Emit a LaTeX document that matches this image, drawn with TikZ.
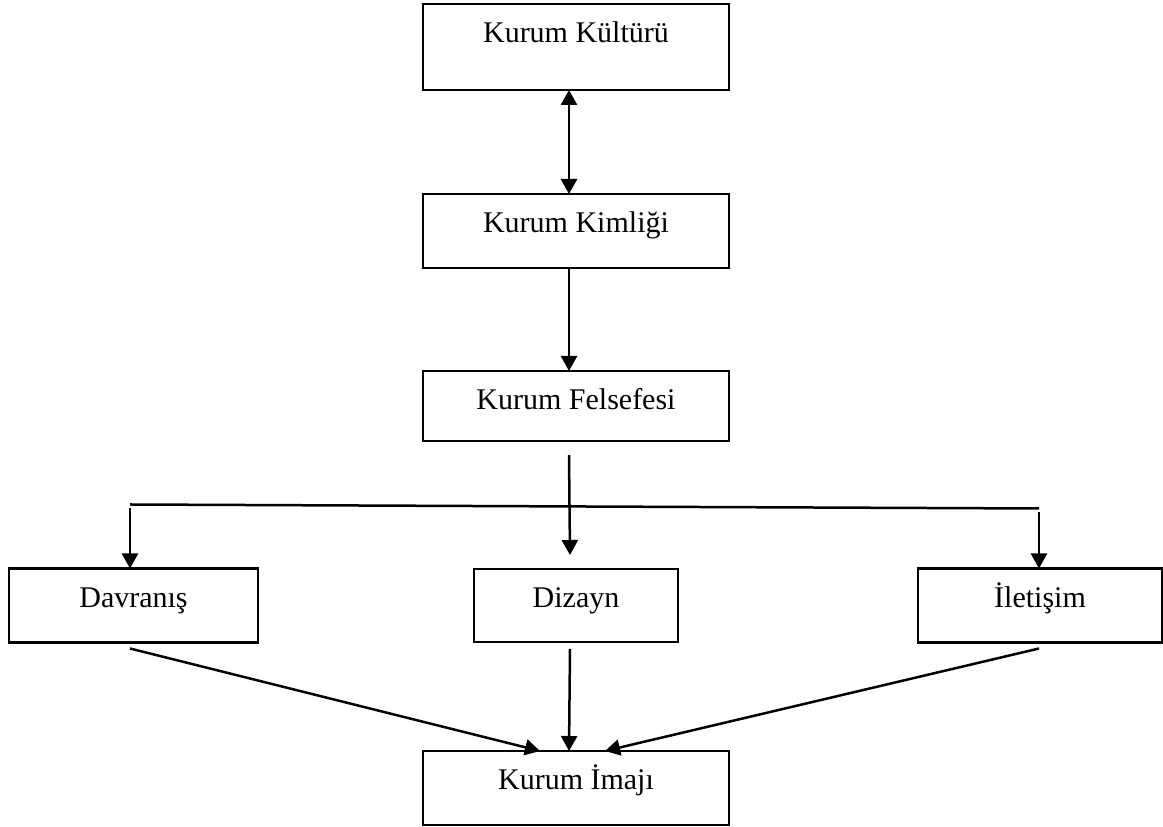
\documentclass[tikz,border=0pt]{standalone}
\usepackage{fontspec}
\setmainfont{Liberation Serif}
\usetikzlibrary{arrows.meta, positioning}
\tikzset{
  kutu/.style={rectangle, draw=black, line width=2.5pt, inner sep=0pt, outer sep=0pt,
              text height=39pt, font=\fontsize{30}{36}\selectfont},
  ok/.style={-{Triangle[length=15pt, width=16pt]}, line width=2.5pt},
  ciftok/.style={{Triangle[length=15pt, width=16pt]}-{Triangle[length=15pt, width=16pt]}, line width=2.5pt},
  cizgi/.style={line width=2.5pt},
}
\begin{document}
\begin{tikzpicture}
      \useasboundingbox (0,0) rectangle (1163pt,827pt);
      \node[kutu, minimum width=306pt, text depth=47pt] (kultur) at (576pt,780pt) {Kurum Kültürü};
      \node[kutu, below=104pt of kultur, minimum width=306pt, text depth=35pt] (kimlik) {Kurum Kimliği};
      \node[kutu, below=103pt of kimlik, minimum width=306pt, text depth=31pt] (felsefe) {Kurum Felsefesi};
      \node[kutu, below=128pt of felsefe, minimum width=204pt, text depth=34pt] (dizayn) {Dizayn};
      \node[kutu, left=216pt of dizayn, minimum width=249pt, text depth=35pt] (davranis) {Davranış};
      \node[kutu, right=240pt of dizayn, minimum width=244pt, text depth=35pt] (iletisim) {İletişim};
      \node[kutu, below=109pt of dizayn, minimum width=306pt, text depth=35pt] (imaj) {Kurum İmajı};
      \coordinate (solk) at ([xshift=-3.5pt, yshift=64pt]davranis.north);
      \coordinate (sagk) at ([xshift=-1pt, yshift=60pt]iletisim.north);
      \draw[ciftok] ([xshift=-7pt]kultur.south) -- ([xshift=-7pt]kimlik.north);
      \draw[ok] ([xshift=-7pt]kimlik.south) -- ([xshift=-7pt]felsefe.north);
      \draw[ok] ([xshift=-7pt, yshift=-14pt]felsefe.south) -- ([xshift=-6pt, yshift=14pt]dizayn.north);
      \draw[cizgi] (solk) -- (sagk);
      \draw[ok] ([yshift=-4pt]solk) -- (solk |- davranis.north);
      \draw[ok] ([yshift=-4pt]sagk) -- (sagk |- iletisim.north);
      \draw[ok] ([xshift=-6pt, yshift=-7pt]dizayn.south) -- ([xshift=-7pt]imaj.north);
      \draw[ok] ([xshift=-3.5pt, yshift=-6pt]davranis.south) -- ([xshift=-36pt]imaj.north);
      \draw[ok] ([xshift=-1pt, yshift=-6pt]iletisim.south) -- ([xshift=29pt]imaj.north);
    \end{tikzpicture}
\end{document}
